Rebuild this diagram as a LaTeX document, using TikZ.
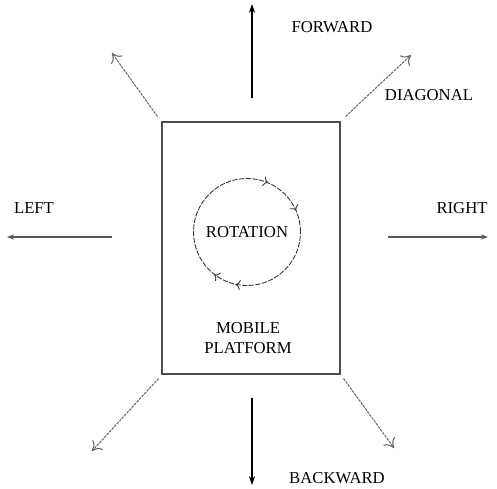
\documentclass[tikz,border=0pt]{standalone}
\usepackage{fontspec}
\setmainfont{Liberation Serif}
\usetikzlibrary{arrows.meta,decorations.markings}
\tikzset{
    lbl/.style={font=\fontsize{9.5}{11}\selectfont, align=center, inner sep=1pt},
    move/.style={-{Stealth[length=5pt,width=3.5pt]}, line width=1pt},
    side/.style={-{Stealth[length=4pt,width=3pt]}, draw=black!65, line width=0.6pt},
    diag/.style={-{To[length=5pt,width=8pt]}, draw=black!60, line width=0.6pt, dash pattern=on 1.5pt off 0.6pt}
}
\begin{document}
\begin{tikzpicture}
    \useasboundingbox (0,0) rectangle (9.94,-9.76);
    % platform
    \node[draw=black!70, line width=0.6pt, minimum width=3.56cm, minimum height=5.04cm] (platform) at (5.02,-4.96) {};
    \node[lbl] (name) at (4.96,-6.76) {MOBILE\\PLATFORM};
    % rotation
    \node[circle, draw=black!80, dash pattern=on 3pt off 0.8pt, line width=0.5pt, minimum size=2.14cm, lbl,
        postaction={decorate, decoration={markings,
            mark=at position 0.08 with {\arrow{<}},
            mark=at position 0.20 with {\arrow{<}},
            mark=at position 0.66 with {\arrow{<}},
            mark=at position 0.73 with {\arrow{<}}}}] (rot) at (4.94,-4.64) {ROTATION};
    % ends of the moves
    \coordinate (fwd0) at (5.04,-1.96);   \coordinate (fwd1) at (5.04,-0.08);
    \coordinate (bwd0) at (5.04,-7.96);   \coordinate (bwd1) at (5.04,-9.70);
    \coordinate (lft0) at (2.24,-4.74);   \coordinate (lft1) at (0.14,-4.74);
    \coordinate (rgt0) at (7.76,-4.74);   \coordinate (rgt1) at (9.76,-4.74);
    \coordinate (ne) at (8.22,-1.10);     \coordinate (nw) at (2.24,-1.06);
    \coordinate (sw) at (1.84,-9.02);     \coordinate (se) at (7.88,-8.96);
    % moves
    \draw[move] (fwd0) -- (fwd1);
    \draw[move] (bwd0) -- (bwd1);
    \draw[side] (lft0) -- (lft1);
    \draw[side] (rgt0) -- (rgt1);
    \draw[diag] ([shift={(0.1,0.1)}]platform.north east) -- (ne);
    \draw[diag] ([shift={(-0.08,0.1)}]platform.north west) -- (nw);
    \draw[diag] ([shift={(-0.06,-0.08)}]platform.south west) -- (sw);
    \draw[diag] ([shift={(0.06,-0.08)}]platform.south east) -- (se);
    % labels
    \node[lbl] (fwdlbl) at (6.64,-0.54) {FORWARD};
    \node[lbl] (bwdlbl) at (6.74,-9.56) {BACKWARD};
    \node[lbl] (lftlbl) at (0.68,-4.16) {LEFT};
    \node[lbl] (rgtlbl) at (9.24,-4.16) {RIGHT};
    \node[lbl] (diaglbl) at (8.58,-1.90) {DIAGONAL};
\end{tikzpicture}
\end{document}
